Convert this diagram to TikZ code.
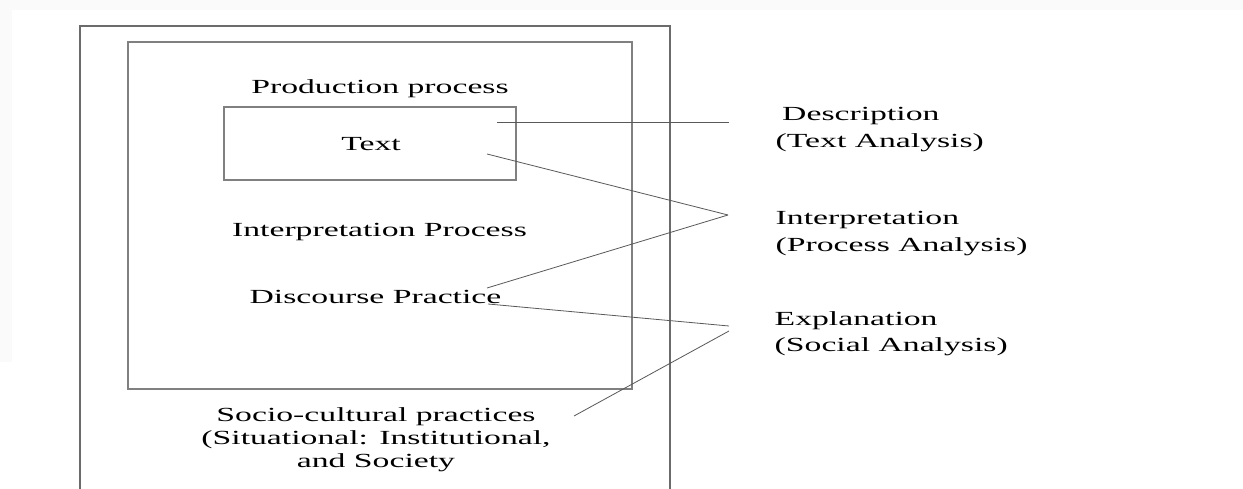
\documentclass[tikz,border=0pt]{standalone}
\usepackage{fontspec}
\setmainfont{Liberation Serif}[FakeStretch=1.685]

\tikzset{
  lbl/.style={font=\fontsize{20}{25}\selectfont, inner sep=0pt, anchor=base},
  side/.style={lbl, anchor=base west, align=left, font=\fontsize{20}{27}\selectfont},
  frame/.style={draw=black!58, line width=1.4pt},
  box/.style={draw=black!50, line width=1.1pt},
  link/.style={draw=black!65, line width=0.8pt},
}

\begin{document}
\begin{tikzpicture}[x=1pt,y=-1pt]
  \useasboundingbox (0,0) rectangle (1243,489);
  % faint scan edge at top and left
  \fill[black!2] (0,0) rectangle (1243,489);
  \fill[white] (12,10) rectangle (1243,489);
  \fill[white] (0,362) rectangle (12,489);

  % outer frame runs off the bottom
  \draw[frame] (80,489) -- (80,26) -- (670,26) -- (670,489);
  \draw[box] (128,42) rectangle (632,389);

  \node[lbl] (prod) at (380,94) {Production process};
  \node[box, minimum width=292, minimum height=73] (txtbox) at (370,143.5) {};
  \node[lbl] (txt) at (371,151) {Text};
  \node[lbl] (interp) at (379.5,237) {Interpretation Process};
  \node[lbl] (disc) at (375.5,303) {Discourse Practice};
  % multi-line nodes sit on their last baseline
  \node[lbl, align=center, font=\fontsize{20}{23}\selectfont] (socio) at (376,467)
    {Socio-cultural practices\\(Situational: Institutional,\\and Society};

  \node[side] (desc) at (775.5,148) {\hspace*{6.5pt}Description\\(Text Analysis)};
  \node[side] (interp2) at (775.5,252) {Interpretation\\(Process Analysis)};
  \node[side] (expl) at (774.5,352) {Explanation\\(Social Analysis)};

  % line ends
  \coordinate (t1) at (497,122.5);
  \coordinate (t2) at (487,154);
  \coordinate (d1) at (487,288);
  \coordinate (d2) at (488,304);
  \coordinate (s1) at (574,416);
  \coordinate (dtip) at (729,122.5);
  \coordinate (itip) at (728,215);
  \coordinate (etip) at (729,326);
  \coordinate (etip2) at (729,331);

  \draw[link] (t1) to (dtip);
  \draw[link] (t2) to (itip);
  \draw[link] (d1) to (itip);
  \draw[link] (d2) to (etip);
  \draw[link] (s1) to (etip2);
\end{tikzpicture}
\end{document}
